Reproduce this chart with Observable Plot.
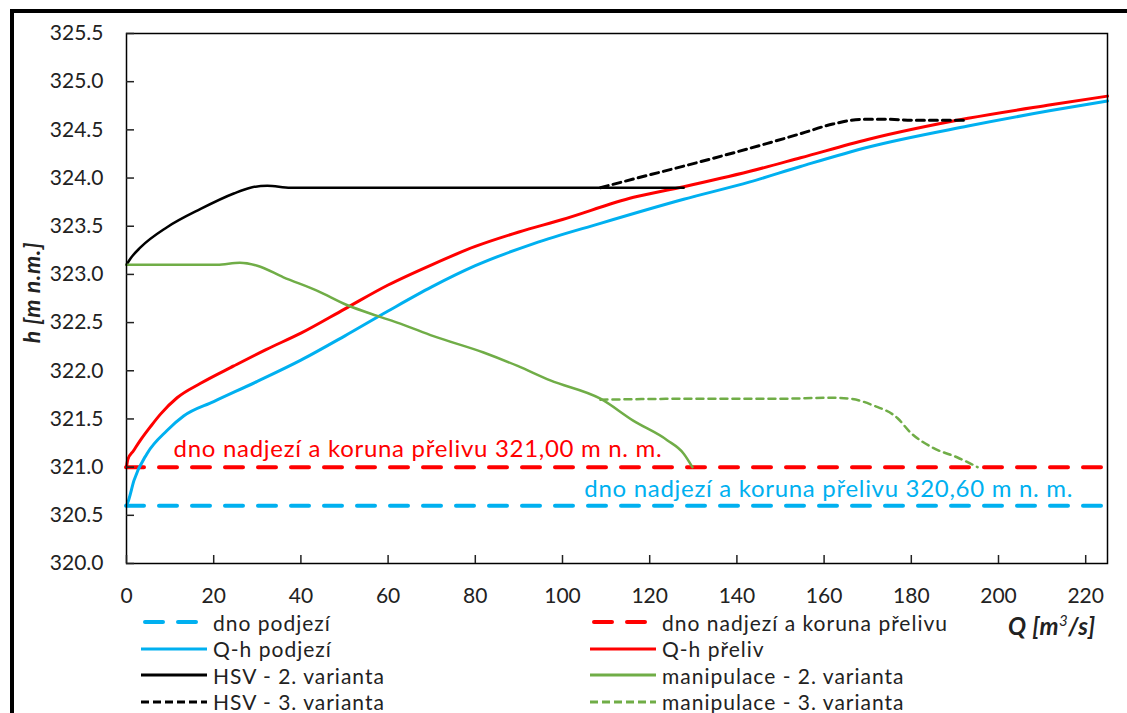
<!DOCTYPE html>
<html>
<head>
<meta charset="utf-8">
<script src="https://cdn.jsdelivr.net/npm/d3@7"></script>
<script src="https://cdn.jsdelivr.net/npm/@observablehq/plot@0.6"></script>
<style>
  html, body { margin: 0; padding: 0; background: #fff; overflow: hidden; }
  #wrap { position: relative; width: 1127px; height: 713px; font-family: Lato, "Open Sans", sans-serif; }
  #border { position: absolute; left: 10px; top: 9px; width: 1130px; height: 720px; border-left: 4px solid #000; border-top: 4px solid #000; box-sizing: border-box; }
  #chart { position: absolute; left: 0; top: 0; }
  .leg { position: absolute; font-size: 21px; letter-spacing: 1px; color: #222; white-space: nowrap; display: flex; align-items: center; height: 24px; }
  .leg svg { margin-right: 6px; }
  #xlabel { position: absolute; left: 1008px; top: 611px; font-size: 24px; letter-spacing: 0.5px; font-weight: bold; font-style: italic; color: #222; }
</style>
</head>
<body>
<div id="wrap">
  <div id="chart"></div>
  <div id="border"></div>
  <div id="legend"></div>
  <div id="xlabel">Q [<i>m</i><sup style="font-size:15px;font-weight:normal">3</sup>/<i>s</i>]</div>
</div>
<script>
// ---- data ----
const xTicks = [0, 20, 40, 60, 80, 100, 120, 140, 160, 180, 200, 220];
const yTicks = [320.0, 320.5, 321.0, 321.5, 322.0, 322.5, 323.0, 323.5, 324.0, 324.5, 325.0, 325.5];

const dnoPodjeziLevel = 320.6;
const dnoNadjeziLevel = 321.0;

const qhPodjeziQ = [0, 0.5, 1.7, 4.7, 9.3, 13.1, 20, 30, 40, 50, 60, 70, 80, 93.4, 108.7, 127.8, 143, 154.6, 170, 193, 212, 225];
const qhPodjeziH = [320.6, 320.66, 320.86, 321.14, 321.38, 321.53, 321.68, 321.89, 322.11, 322.36, 322.62, 322.87, 323.09, 323.32, 323.53, 323.78, 323.96, 324.12, 324.32, 324.54, 324.70, 324.80];

const qhPrelivQ = [0, 0.3, 1.6, 3.2, 5.5, 7.8, 11.6, 17, 24.6, 32, 40, 50, 60, 70, 80, 90, 100, 116.3, 127.8, 143, 154.6, 170, 193, 212, 225];
const qhPrelivH = [321.0, 321.08, 321.17, 321.28, 321.42, 321.55, 321.72, 321.87, 322.05, 322.22, 322.39, 322.64, 322.89, 323.10, 323.29, 323.44, 323.57, 323.80, 323.91, 324.07, 324.21, 324.40, 324.62, 324.76, 324.85];

const hsv2Q = [0, 1, 3.2, 9.3, 17, 24.6, 28.4, 32.3, 37.6, 45, 60, 80, 100, 127.8];
const hsv2H = [323.1, 323.17, 323.28, 323.49, 323.68, 323.84, 323.90, 323.92, 323.90, 323.9, 323.9, 323.9, 323.9, 323.9];

const hsv3Q = [108.7, 116.3, 131.7, 147, 154.6, 162, 169, 173.7, 181, 193];
const hsv3H = [323.9, 323.99, 324.17, 324.36, 324.46, 324.56, 324.61, 324.61, 324.60, 324.60];

const manip2Q = [0, 10, 20.8, 26, 30, 36, 43.8, 50.7, 57.5, 62.8, 70.4, 81.9, 89.7, 97.2, 108.7, 116.3, 124, 127.8, 129.8];
const manip2H = [323.1, 323.1, 323.1, 323.12, 323.09, 322.97, 322.83, 322.68, 322.57, 322.49, 322.36, 322.19, 322.05, 321.90, 321.71, 321.48, 321.28, 321.14, 321.0];

const manip3Q = [108.7, 130, 150, 161.5, 166, 171.3, 176.8, 179.8, 185, 190.6, 195.2];
const manip3H = [321.7, 321.71, 321.71, 321.72, 321.71, 321.64, 321.51, 321.36, 321.2, 321.1, 321.0];

const annotRed = "dno nadjezí a koruna přelivu 321,00 m n. m.";
const annotBlue = "dno nadjezí a koruna přelivu 320,60 m n. m.";
const yLabel = "h [m n.m.]";

const legendLabels = ["dno podjezí", "Q-h podjezí", "HSV - 2. varianta", "HSV - 3. varianta",
                      "dno nadjezí a koruna přelivu", "Q-h přeliv", "manipulace - 2. varianta", "manipulace - 3. varianta"];

// ---- helpers ----
const zip = (qs, hs) => qs.map((q, i) => ({Q: q, h: hs[i]}));
const RED = "#FF0000", BLUE = "#00B0F0", GREEN = "#70AD47", BLACK = "#000000";

const chart = Plot.plot({
  width: 1127,
  height: 713,
  marginLeft: 126,
  marginRight: 20,
  marginTop: 33,
  marginBottom: 150,
  style: {fontFamily: "Lato, 'Open Sans', sans-serif", fontSize: "21px", color: "#222", background: "transparent"},
  x: {domain: [0, 225]},
  y: {domain: [320, 325.5]},
  marks: [
    Plot.ruleY([dnoNadjeziLevel], {stroke: RED, strokeWidth: 4, strokeDasharray: "18,15", strokeLinecap: "round"}),
    Plot.ruleY([dnoPodjeziLevel], {stroke: BLUE, strokeWidth: 4, strokeDasharray: "18,15", strokeLinecap: "round"}),
    Plot.line(zip(qhPodjeziQ, qhPodjeziH), {x: "Q", y: "h", stroke: BLUE, strokeWidth: 3, curve: "monotone-x"}),
    Plot.line(zip(qhPrelivQ, qhPrelivH), {x: "Q", y: "h", stroke: RED, strokeWidth: 3, curve: "monotone-x"}),
    Plot.line(zip(hsv3Q, hsv3H), {x: "Q", y: "h", stroke: BLACK, strokeWidth: 3, strokeDasharray: "8,5", curve: "monotone-x"}),
    Plot.line(zip(hsv2Q, hsv2H), {x: "Q", y: "h", stroke: BLACK, strokeWidth: 2.5, curve: "monotone-x"}),
    Plot.line(zip(manip3Q, manip3H), {x: "Q", y: "h", stroke: GREEN, strokeWidth: 2.5, strokeDasharray: "7,5", curve: "monotone-x"}),
    Plot.line(zip(manip2Q, manip2H), {x: "Q", y: "h", stroke: GREEN, strokeWidth: 2.5, curve: "monotone-x"}),
    Plot.text([annotRed], {x: 10.8, y: 321.18, text: d => d, fill: RED, fontSize: 24, textAnchor: "start", lineAnchor: "middle", className: "annot"}),
    Plot.text([annotBlue], {x: 105, y: 320.77, text: d => d, fill: BLUE, fontSize: 24, textAnchor: "start", lineAnchor: "middle", className: "annot"}),
    Plot.frame({stroke: "#000", strokeWidth: 1.5}),
    // axes: labels
    Plot.axisX(xTicks, {anchor: "bottom", tickSize: 0, tickPadding: 25, label: null, fill: "#222"}),
    Plot.axisY(yTicks, {anchor: "left", tickSize: 0, tickPadding: 23, label: null, tickFormat: d3.format(".1f"), fill: "#222"}),
    // inward ticks
    Plot.axisX(xTicks, {anchor: "bottom", tickSize: 8, dy: -8, tickFormat: () => "", label: null, strokeWidth: 1.5}),
    Plot.axisY(yTicks, {anchor: "left", tickSize: 8, dx: 8, tickFormat: () => "", label: null, strokeWidth: 1.5}),
    Plot.text([yLabel], {frameAnchor: "left", text: d => d, rotate: -90, textAnchor: "middle", dx: -94, dy: -6, fontWeight: "bold", fontStyle: "italic", fontSize: 23, fill: "#222", className: "ylab"})
  ]
});
document.getElementById("chart").appendChild(chart);
chart.querySelectorAll("g.annot text, .annot text").forEach(t => t.style.letterSpacing = "0.7px");
chart.querySelectorAll("g.ylab text, .ylab text").forEach(t => t.style.letterSpacing = "0.6px");

// ---- legend ----
const styles = [
  {stroke: BLUE, w: 4, dash: "18,15", cap: "round"},
  {stroke: BLUE, w: 3, dash: null},
  {stroke: BLACK, w: 3, dash: null},
  {stroke: BLACK, w: 3, dash: "8,4"},
  {stroke: RED, w: 4, dash: "18,15", cap: "round"},
  {stroke: RED, w: 3, dash: null},
  {stroke: GREEN, w: 3, dash: null},
  {stroke: GREEN, w: 3, dash: "8,4"}
];
const leg = document.getElementById("legend");
legendLabels.forEach((lab, i) => {
  const col = i < 4 ? 0 : 1;
  const row = i % 4;
  const s = styles[i];
  const d = document.createElement("div");
  d.className = "leg";
  d.style.left = (col === 0 ? 141 : 590) + "px";
  d.style.top = (610 + row * 26.5) + "px";
  const sw = 66;
  const x0 = s.cap ? 4 : 0, x1 = s.cap ? sw - 4 : sw;
  d.innerHTML = `<svg width="${sw}" height="12"><line x1="${x0}" x2="${x1}" y1="6" y2="6" stroke="${s.stroke}" stroke-width="${s.w}" ${s.dash ? `stroke-dasharray="${s.dash}"` : ""} ${s.cap ? `stroke-linecap="round"` : ""}/></svg><span>${lab}</span>`;
  leg.appendChild(d);
});
</script>
</body>
</html>
